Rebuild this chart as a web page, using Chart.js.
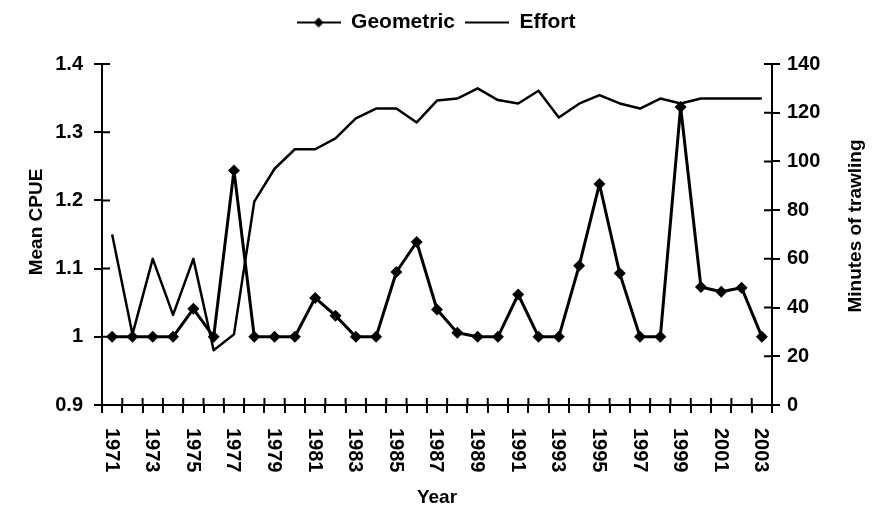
<!DOCTYPE html>
<html>
<head>
<meta charset="utf-8">
<title>Mean CPUE and effort</title>
<script src="https://cdn.jsdelivr.net/npm/chart.js@4"></script>
<style>
  html, body { margin: 0; padding: 0; background: #fff; }
  canvas { display: block; }
</style>
</head>
<body>
<canvas id="cpue-chart" width="872" height="509"></canvas>
<script>
// Data
const years = ['1971', '1972', '1973', '1974', '1975', '1976', '1977', '1978', '1979', '1980',
  '1981', '1982', '1983', '1984', '1985', '1986', '1987', '1988', '1989', '1990',
  '1991', '1992', '1993', '1994', '1995', '1996', '1997', '1998', '1999', '2000',
  '2001', '2002', '2003'];
const geometric = [1.0, 1.0, 1.0, 1.0, 1.041, 1.0, 1.244, 1.0, 1.0, 1.0,
  1.057, 1.031, 1.0, 1.0, 1.095, 1.139, 1.040, 1.006, 1.0, 1.0,
  1.062, 1.0, 1.0, 1.104, 1.224, 1.093, 1.0, 1.0, 1.337, 1.073,
  1.066, 1.072, 1.0];
const effort = [70, 29, 60, 37, 60, 22.5, 29, 83.5, 97, 105,
  105, 109.5, 117.7, 121.7, 121.7, 116, 125, 125.8, 130, 125.2,
  123.8, 129, 118, 123.7, 127.2, 123.8, 121.7, 125.8, 123.8, 125.8,
  125.8, 125.8, 125.8];
const cpueTicks = [0.9, 1.0, 1.1, 1.2, 1.3, 1.4];
const minuteTicks = [0, 20, 40, 60, 80, 100, 120, 140];

const FONT = '"Liberation Sans", Arial, sans-serif';
Chart.defaults.font.family = FONT;
Chart.defaults.font.size = 20;
Chart.defaults.font.weight = 'bold';
Chart.defaults.color = '#000';

// Legend icons (line with diamond / plain line)
function legendIcon(withDiamond) {
  const c = document.createElement('canvas');
  c.width = 44;
  c.height = 14;
  const ctx = c.getContext('2d');
  ctx.strokeStyle = '#000';
  ctx.lineWidth = 2;
  ctx.beginPath();
  ctx.moveTo(0, 7);
  ctx.lineTo(44, 7);
  ctx.stroke();
  if (withDiamond) {
    ctx.fillStyle = '#000';
    ctx.beginPath();
    ctx.moveTo(22, 2);
    ctx.lineTo(27, 7);
    ctx.lineTo(22, 12);
    ctx.lineTo(17, 7);
    ctx.closePath();
    ctx.fill();
  }
  return c;
}
const geoIcon = legendIcon(true);
const effortIcon = legendIcon(false);

// Push the plot area down below the legend
const legendMargin = {
  id: 'legendMargin',
  beforeInit(chart) {
    const fit = chart.legend.fit;
    chart.legend.fit = function () {
      fit.bind(chart.legend)();
      this.height += 21;
    };
  }
};

// Crossing tick marks, clockwise year labels, axis titles
const extras = {
  id: 'extras',
  afterDraw(chart) {
    const ctx = chart.ctx;
    const xs = chart.scales.x;
    const ys = chart.scales.y;
    const y1 = chart.scales.y1;
    ctx.save();
    ctx.strokeStyle = '#000';
    ctx.lineWidth = 2;
    ctx.beginPath();
    ys.ticks.forEach((t, i) => {
      const py = ys.getPixelForTick(i);
      ctx.moveTo(ys.right, py);
      ctx.lineTo(ys.right + 8, py);
    });
    y1.ticks.forEach((t, i) => {
      const py = y1.getPixelForTick(i);
      ctx.moveTo(y1.left - 8, py);
      ctx.lineTo(y1.left, py);
    });
    for (let i = 0; i <= years.length; i++) {
      const px = xs.getPixelForValue(i - 0.5);
      ctx.moveTo(px, xs.top - 7);
      ctx.lineTo(px, xs.top);
    }
    ctx.stroke();

    ctx.fillStyle = '#000';
    ctx.font = 'bold 20px ' + FONT;
    ctx.textBaseline = 'middle';
    ctx.textAlign = 'left';
    years.forEach((yr, i) => {
      if (i % 2 !== 0) return;
      ctx.save();
      ctx.translate(xs.getPixelForTick(i), xs.top + 23);
      ctx.rotate(Math.PI / 2);
      ctx.fillText(yr, 0, 1);
      ctx.restore();
    });

    ctx.font = 'bold 19px ' + FONT;
    ctx.textAlign = 'center';
    ctx.save();
    ctx.translate(37, 222);
    ctx.rotate(-Math.PI / 2);
    ctx.fillText('Mean CPUE', 0, 0);
    ctx.restore();
    ctx.save();
    ctx.translate(856, 226);
    ctx.rotate(-Math.PI / 2);
    ctx.fillText('Minutes of trawling', 0, 0);
    ctx.restore();
    ctx.restore();
  }
};

const cpueChart = new Chart(document.getElementById('cpue-chart'), {
  type: 'line',
  data: {
    labels: years,
    datasets: [
      {
        label: 'Geometric',
        data: geometric,
        yAxisID: 'y',
        borderColor: '#000',
        backgroundColor: '#000',
        borderWidth: 3,
        borderJoinStyle: 'round',
        pointStyle: 'rectRot',
        pointRadius: 6,
        pointBorderWidth: 0,
        tension: 0,
      },
      {
        label: 'Effort',
        data: effort,
        yAxisID: 'y1',
        borderColor: '#000',
        backgroundColor: '#000',
        borderWidth: 2.5,
        borderJoinStyle: 'round',
        pointRadius: 0,
        tension: 0,
      },
    ],
  },
  options: {
    responsive: false,
    animation: false,
    layout: { padding: { top: 2, left: 0, right: 0, bottom: 0 } },
    plugins: {
      tooltip: { enabled: false },
      legend: {
        position: 'top',
        labels: {
          usePointStyle: true,
          pointStyleWidth: 44,
          padding: 10,
          font: { size: 21, weight: 'bold' },
          generateLabels(chart) {
            const items = Chart.defaults.plugins.legend.labels.generateLabels(chart);
            items[0].pointStyle = geoIcon;
            items[1].pointStyle = effortIcon;
            return items;
          },
        },
      },
    },
    scales: {
      x: {
        type: 'category',
        offset: true,
        grid: { display: true, offset: true, drawOnChartArea: false, tickLength: 8, color: '#000', lineWidth: 2 },
        border: { display: true, color: '#000', width: 2 },
        ticks: {
          autoSkip: false,
          minRotation: 90,
          maxRotation: 90,
          color: 'rgba(0,0,0,0)',
          callback: (v, i) => (i % 2 === 0 ? years[i] : ''),
        },
        title: { display: true, text: 'Year', font: { size: 19 }, padding: { top: 0, bottom: 0 } },
        afterFit(scale) { scale.height = 104; },
      },
      y: {
        position: 'left',
        min: cpueTicks[0],
        max: cpueTicks[cpueTicks.length - 1],
        afterBuildTicks(scale) { scale.ticks = cpueTicks.map(v => ({ value: v })); },
        grid: { display: true, drawOnChartArea: false, tickLength: 8, color: '#000', lineWidth: 2 },
        border: { display: true, color: '#000', width: 2 },
        ticks: { padding: 11, callback: v => String(+v.toFixed(1)) },
        afterFit(scale) { scale.width = 102; },
      },
      y1: {
        position: 'right',
        min: minuteTicks[0],
        max: minuteTicks[minuteTicks.length - 1],
        afterBuildTicks(scale) { scale.ticks = minuteTicks.map(v => ({ value: v })); },
        grid: { display: true, drawOnChartArea: false, tickLength: 8, color: '#000', lineWidth: 2 },
        border: { display: true, color: '#000', width: 2 },
        ticks: { padding: 7 },
        afterFit(scale) { scale.width = 100; },
      },
    },
  },
  plugins: [legendMargin, extras],
});
</script>
</body>
</html>
